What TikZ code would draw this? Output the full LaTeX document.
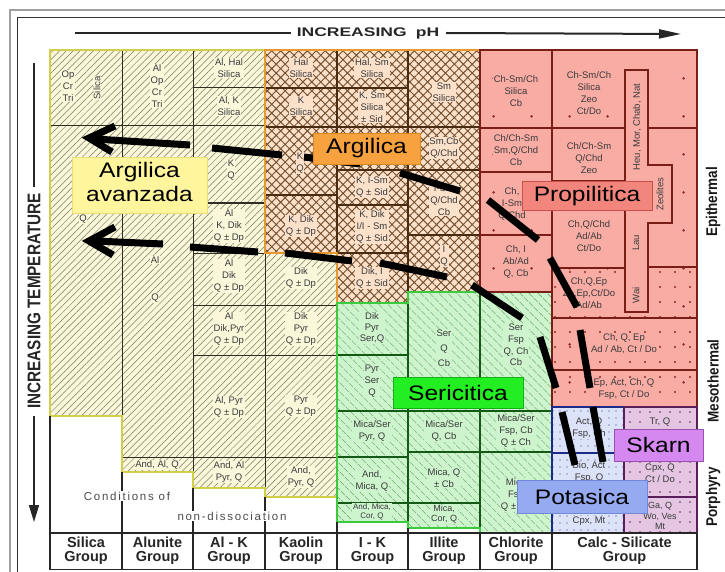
\documentclass[tikz,border=0pt]{standalone}
\usepackage{fontspec}
\setmainfont{Liberation Sans}
\usepackage{graphicx}
\usetikzlibrary{patterns.meta,arrows.meta}
\newcommand{\wideT}[1]{\scalebox{1.17}[1]{#1}}
\definecolor{cream}{HTML}{FAF7DA}
\definecolor{hatchY}{HTML}{7A7A62}
\definecolor{borderY}{HTML}{D2CE48}
\definecolor{lineY}{HTML}{2E2E22}
\definecolor{peach}{HTML}{FBE0CA}
\definecolor{hatchO}{HTML}{74502E}
\definecolor{borderO}{HTML}{E8982E}
\definecolor{lineO}{HTML}{4A2C12}
\definecolor{salmon}{HTML}{F8ACA4}
\definecolor{dotR}{HTML}{8E2A22}
\definecolor{lineR}{HTML}{7A1E18}
\definecolor{mint}{HTML}{CDF4CD}
\definecolor{hatchG}{HTML}{3C8C3C}
\definecolor{borderG}{HTML}{3CCB3C}
\definecolor{lineG}{HTML}{145A14}
\definecolor{bluebg}{HTML}{DCE2F8}
\definecolor{dotB}{HTML}{28307A}
\definecolor{lineB}{HTML}{1E2A8A}
\definecolor{purbg}{HTML}{E4C6E2}
\definecolor{dotP}{HTML}{6A2A6A}
\definecolor{lineP}{HTML}{5A1E5A}
\definecolor{labY}{HTML}{FFF59D}
\definecolor{labYd}{HTML}{EEDC78}
\definecolor{labO}{HTML}{F7A23E}
\definecolor{labOd}{HTML}{DD8820}
\definecolor{labR}{HTML}{F2867C}
\definecolor{labRd}{HTML}{C8524A}
\definecolor{labG}{HTML}{22EE22}
\definecolor{labGd}{HTML}{18B018}
\definecolor{labB}{HTML}{95AAF0}
\definecolor{labBd}{HTML}{7088D8}
\definecolor{labP}{HTML}{D488F0}
\definecolor{labPd}{HTML}{9A50B0}
\definecolor{txt}{HTML}{3A3A3A}
\begin{document}
\begin{tikzpicture}[x=1pt,y=-1pt,
  cell/.style={font=\fontsize{9.5}{11.8}\selectfont, text=txt, align=center, inner sep=0.8pt},
  cY/.style={cell,fill=cream},
  cO/.style={cell,fill=peach},
  cR/.style={cell,fill=salmon},
  cG/.style={cell,fill=mint},
  cB/.style={cell,fill=bluebg},
  cP/.style={cell,fill=purbg},
  loose/.style={font=\fontsize{9.5}{15}\selectfont},
  lab/.style={draw, line width=0.9pt, inner sep=0pt, font=\fontsize{21}{23.5}\selectfont, text=black},
  grp/.style={font=\bfseries\fontsize{14.5}{14}\selectfont, align=center, text=black!85},
  side/.style={font=\bfseries\fontsize{13.5}{14}\selectfont, rotate=90, text=black!90},
  bot/.style={font=\fontsize{11.5}{12}\selectfont\addfontfeatures{LetterSpace=15}, text=black!70, fill=white, inner sep=1pt},
  lnY/.style={lineY, line width=1pt},
  lnO/.style={lineO, line width=1.1pt},
  lnR/.style={lineR, line width=1.1pt},
  lnG/.style={lineG, line width=1.1pt},
  lnK/.style={black!85, line width=1.1pt},
  thk/.style={line width=7pt, black, line cap=butt},
  ahd/.style={line width=7pt, black, line join=miter, line cap=butt},
]
\useasboundingbox (0,0) rectangle (725,572);
\clip (0,0) rectangle (725,572);
\fill[white] (0,0) rectangle (725,572);
% frame
\draw[gray!75, line width=2.5pt] (10,10) rectangle (760,600);
\draw[black!80, line width=0.9pt] (17,17) rectangle (753,593);

% header arrows
\coordinate (p1) at (75,33); \coordinate (p2) at (291,33);
\coordinate (p3) at (446,33); \coordinate (p4) at (681,34);
\draw[line width=2pt, black!85] (p1) -- (p2);
\draw[line width=2pt, black!85, -{Triangle[length=22pt,width=9pt]}] (p3) -- (p4);
\node[font=\bfseries\fontsize{12.5}{13}\selectfont, text=black!85] (ph) at (368,33) {\scalebox{1.4}[1]{INCREASING\hspace{0.25em} pH}};
\coordinate (t1) at (34,63); \coordinate (t2) at (34,187);
\coordinate (t3) at (34,416); \coordinate (t4) at (34,522);
\draw[line width=1.6pt, black!85] (t1) -- (t2);
\draw[line width=1.6pt, black!85, -{Triangle[length=17pt,width=10pt]}] (t3) -- (t4);
\node[font=\bfseries\fontsize{15.3}{16}\selectfont, rotate=90, text=black!85] (temp) at (34,301) {\scalebox{1}[1.2]{INCREASING TEMPERATURE}};
\node[side] (epi) at (713,202) {\scalebox{1}[1.15]{Epithermal}};
\node[side] (meso) at (713,381) {\scalebox{1}[1.15]{Mesothermal}};
\node[side] (por) at (713,497) {\scalebox{1}[1.15]{Porphyry}};

% region fills
\path[preaction={fill=cream}, pattern={Lines[angle=45,distance=4.8pt,line width=0.5pt]}, pattern color=hatchY]
 (50,50) -- (265,50) -- (265,253) -- (337,253) -- (337,497) -- (265,497) -- (265,488) -- (193,488) -- (193,472) -- (122,472) -- (122,416) -- (50,416) -- cycle;
\path[preaction={fill=peach}, pattern={Hatch[angle=45,distance=6.3pt,line width=0.95pt]}, pattern color=hatchO]
 (265,50) -- (480,50) -- (480,292) -- (408,292) -- (408,303) -- (337,303) -- (337,253) -- (265,253) -- cycle;
\path[preaction={fill=salmon}, pattern={Dots[distance=38pt,radius=1.4pt]}, pattern color=dotR]
 (480,50) -- (697,50) -- (697,407) -- (552,407) -- (552,292) -- (480,292) -- cycle;
\path[pattern={Dots[distance=15pt,radius=1.1pt]}, pattern color=dotR] (552,268) rectangle (697,407);
\path[preaction={fill=mint}, pattern={Lines[angle=-45,distance=6.5pt,line width=0.7pt]}, pattern color=hatchG]
 (337,303) -- (408,303) -- (408,292) -- (552,292) -- (552,533) -- (480,533) -- (480,528) -- (408,528) -- (408,522) -- (337,522) -- cycle;
\path[preaction={fill=bluebg}, pattern={Dots[distance=7pt,radius=0.65pt]}, pattern color=dotB] (552,407) rectangle (624,533);
\path[preaction={fill=purbg}, pattern={Dots[distance=10pt,radius=0.8pt]}, pattern color=dotP] (624,407) rectangle (697,533);

% internal lines: yellow
\draw[lnY] (122,50) -- (122,416);
\draw[lnY] (193,50) -- (193,472);
\draw[lnY] (265,253) -- (265,488);
\draw[lnY] (50,126) -- (265,126);
\draw[lnY] (193,88) -- (265,88);
\draw[lnY] (193,203) -- (265,203);
\draw[lnY] (193,253) -- (265,253);
\draw[lnY] (193,305) -- (337,305);
\draw[lnY] (193,355) -- (337,355);
\draw[lnY] (122,457) -- (337,457);
% orange
\draw[lnO] (337,50) -- (337,253);
\draw[lnO] (408,50) -- (408,292);
\draw[lnO] (265,88) -- (408,88);
\draw[lnO] (265,127) -- (480,127);
\draw[lnO] (265,195) -- (337,195);
\draw[lnO] (337,170) -- (480,170);
\draw[lnO] (337,205) -- (408,205);
\draw[lnO] (337,253) -- (408,253);
\draw[lnO] (408,235) -- (480,235);
% red
\draw[lnR] (552,50) -- (552,292);
\draw[lnR] (480,128) -- (625,128);
\draw[lnR] (648,128) -- (697,128);
\draw[lnR] (480,172) -- (552,172);
\draw[lnR] (480,235) -- (552,235);
\draw[lnR] (552,181) -- (625,181);
\draw[lnR] (552,268) -- (625,268);
\draw[lnR] (648,267) -- (697,267);
\draw[lnR] (552,318) -- (697,318);
\draw[lnR] (552,370) -- (697,370);
\draw[lnR, fill=salmon] (625,70) -- (648,70) -- (648,165) -- (672,165) -- (672,223) -- (648,223) -- (648,312) -- (625,312) -- cycle;
% green
\draw[lnG] (408,303) -- (408,522);
\draw[lnG] (480,292) -- (480,528);
\draw[lnG] (337,355) -- (408,355);
\draw[lnG] (337,411) -- (552,411);
\draw[lnG] (337,457) -- (408,457);
\draw[lnG] (408,452) -- (552,452);
\draw[lnG] (337,503) -- (480,503);
% blue / purple
\draw[lineB, line width=1.1pt] (552,453) -- (624,453);
\draw[lineB, line width=1.1pt] (552,508) -- (624,508);
\draw[lineP, line width=1.1pt] (624,453) -- (697,453);
\draw[lineP, line width=1.1pt] (624,497) -- (697,497);

% region borders
\draw[borderY, line width=1.5pt] (50,50) -- (265,50) -- (265,253) -- (337,253) -- (337,497) -- (265,497) -- (265,488) -- (193,488) -- (193,472) -- (122,472) -- (122,416) -- (50,416) -- cycle;
\draw[borderO, line width=1.5pt] (265,50) -- (480,50) -- (480,292) -- (408,292) -- (408,303) -- (337,303) -- (337,253) -- (265,253) -- cycle;
\draw[borderG, line width=1.5pt] (337,303) -- (408,303) -- (408,292) -- (552,292) -- (552,533) -- (480,533) -- (480,528) -- (408,528) -- (408,522) -- (337,522) -- cycle;
\draw[lineR, line width=1.4pt] (480,50) -- (697,50) -- (697,407) -- (552,407) -- (552,292) -- (480,292) -- cycle;
\draw[lineB, line width=1.3pt] (552,407) rectangle (624,533);
\draw[lineP, line width=1.3pt] (624,407) rectangle (697,533);

% white area and group row
\draw[lnK] (50,416) -- (50,570);
\draw[lnK] (122,472) -- (122,570);
\draw[lnK] (193,488) -- (193,570);
\draw[lnK] (265,497) -- (265,570);
\draw[lnK] (337,522) -- (337,570);
\draw[lnK] (408,528) -- (408,570);
\draw[lnK] (480,533) -- (480,570);
\draw[lnK] (552,533) -- (552,570);
\draw[lnK] (697,533) -- (697,570);
\draw[lnK] (50,533) -- (697,533);
\draw[lnK] (50,569.5) -- (697,569.5);
\node[grp] (G1) at (86,551) {Silica\\Group};
\node[grp] (G2) at (157.5,551) {Alunite\\Group};
\node[grp] (G3) at (229,551) {Al - K\\Group};
\node[grp] (G4) at (301,551) {Kaolin\\Group};
\node[grp] (G5) at (372.5,551) {I - K\\Group};
\node[grp] (G6) at (444,551) {Illite\\Group};
\node[grp] (G7) at (516,551) {Chlorite\\Group};
\node[grp] (G8) at (624.5,551) {Calc - Silicate\\Group};
\node[bot] (cond) at (127,496) {Conditions of};
\node[bot] (nond) at (232,516) {non-dissociation};

% cell texts: yellow
\node[cY] (s1) at (68,86) {Op\\Cr\\Tri};
\node[cY,rotate=90] (s2) at (97,88) {Silica};
\node[cY] (s3) at (83,219) {Q};
\node[cY] (u1) at (157,86) {Al\\Op\\Cr\\Tri};
\node[cY] (u2) at (155,260) {Al};
\node[cY] (u3) at (155,298) {Q};
\node[cY] (u4) at (157,465) {And, Al, Q};
\node[cY] (k1) at (229,68) {Al, Hal\\Silica};
\node[cY] (k2) at (229,106) {Al, K\\Silica};
\node[cY] (k3) at (231,170) {K\\Q};
\node[cY] (k4) at (229,226) {Al\\K, Dik\\Q ± Dp};
\node[cY] (k5) at (229,276) {Al\\Dik\\Q ± Dp};
\node[cY] (k6) at (229,329) {Al\\Dik,Pyr\\Q ± Dp};
\node[cY] (k7) at (229,407) {Al, Pyr\\Q ± Dp};
\node[cY] (k8) at (229,472) {And, Al\\Pyr, Q};
\node[cY] (c5) at (301,278) {Dik\\Q ± Dp};
\node[cY] (c6) at (301,329) {Dik\\Pyr\\Q ± Dp};
\node[cY] (c7) at (301,406) {Pyr\\Q ± Dp};
\node[cY] (c8) at (301,477) {And,\\Pyr, Q};
% orange
\node[cO] (c1) at (301,68) {Hal\\Silica};
\node[cO] (c2) at (301,106) {K\\Silica};
\node[cO] (c3) at (300,163) {K\\Q};
\node[cO] (c4) at (301,226) {K, Dik\\Q ± Dp};
\node[cO] (i1) at (372,68) {Hal, Sm\\Silica};
\node[cO] (i2) at (372,107) {K, Sm\\Silica\\± Sid};
\node[cO] (i3) at (372,187) {K, I-Sm\\Q ± Sid};
\node[cO] (i4) at (372,227) {K, Dik\\I/I - Sm\\Q ± Sid};
\node[cO] (i5) at (372,278) {Dik, I\\Q ± Sid};
\node[cO] (l1) at (444,92) {Sm\\Silica};
\node[cO] (l2) at (444,148) {Sm,Cb\\Q/Chd};
\node[cO] (l3) at (444,200) {I-Sm\\Q/Chd\\Cb};
\node[cO] (l4) at (444,256) {I\\Q};
% red
\node[cR] (h1) at (516,91) {Ch-Sm/Ch\\Silica\\Cb};
\node[cR] (h2) at (516,150) {Ch/Ch-Sm\\Sm,Q/Chd\\Cb};
\node[cR] (h3) at (512,204) {Ch,\\I-Sm\\Q/Chd};
\node[cR] (h4) at (516,262) {Ch, I\\Ab/Ad\\Q, Cb};
\node[cR] (z1) at (589,93) {Ch-Sm/Ch\\Silica\\Zeo\\Ct/Do};
\node[cR] (z2) at (589,158) {Ch/Ch-Sm\\Q/Chd\\Zeo};
\node[cR] (z3) at (589,236) {Ch,Q/Chd\\Ad/Ab\\Ct/Do};
\node[cR] (z4) at (589,293) {Ch,Q,Ep\\Zo,Ep,Ct/Do\\Ad/Ab};
\node[cR,rotate=90] (z5) at (637,127) {Heu, Mor, Chab, Nat};
\node[cR,rotate=90] (z6) at (660,194) {Zeolites};
\node[cR,rotate=90] (z7) at (636,243) {Lau};
\node[cR,rotate=90] (z8) at (636,295) {Wai};
\node[cR] (z9) at (624,344) {Ch, Q, Ep\\Ad / Ab, Ct / Do};
\node[cR] (z10) at (624,389) {Ep, Act, Ch, Q\\Fsp, Ct / Do};
% blue, purple
\node[cB] (b1) at (589,428) {Act, Q\\Fsp, Ch};
\node[cB] (b2) at (589,472) {Bio, Act\\Fsp, Q};
\node[cB] (b3) at (589,521) {Cpx, Mt};
\node[cP] (q1) at (660,422) {Tr, Q};
\node[cP] (q2) at (660,473) {Cpx, Q\\Ct / Do};
\node[cP, font=\fontsize{9}{10.8}\selectfont] (q3) at (660,516) {Ga, Q\\Wo, Ves\\Mt};
% green
\node[cG, font=\fontsize{9.5}{10.8}\selectfont] (g1) at (372,328) {Dik\\Pyr\\Ser,Q};
\node[cG] (g2) at (372,381) {Pyr\\Ser\\Q};
\node[cG] (g3) at (372,431) {Mica/Ser\\Pyr, Q};
\node[cG] (g4) at (372,481) {And,\\Mica, Q};
\node[cG, font=\fontsize{8}{8.5}\selectfont] (g5) at (372,512) {And, Mica,\\Cor, Q};
\node[cG, loose] (m1) at (444,348) {Ser\\Q\\Cb};
\node[cG] (m2) at (444,431) {Mica/Ser\\Q, Cb};
\node[cG] (m3) at (444,478) {Mica, Q\\± Cb};
\node[cG, font=\fontsize{9}{10}\selectfont] (m4) at (444,514) {Mica,\\Cor, Q};
\node[cG] (n1) at (516,345) {Ser\\Fsp\\Q, Ch\\Cb};
\node[cG] (n2) at (516,431) {Mica/Ser\\Fsp, Cb\\Q ± Ch};
\node[cG] (n3) at (516,495) {Mica\\Fsp\\Q ± Ch};

% thick dashed arrows, upper path
\coordinate (aw1) at (115,126); \coordinate (atip) at (89,138); \coordinate (aw2) at (112,152);
\draw[ahd] (aw1) -- (atip) -- (aw2);
\coordinate (a1) at (95,139); \coordinate (a2) at (190,145);
\coordinate (a3) at (212,148); \coordinate (a4) at (282,155);
\coordinate (a5) at (304,157); \coordinate (a6) at (360,164);
\coordinate (a7) at (400,173); \coordinate (a8) at (460,191);
\coordinate (a9) at (488,200); \coordinate (a10) at (538,240);
\coordinate (a11) at (550,258); \coordinate (a12) at (577,307);
\coordinate (a13) at (580,330); \coordinate (a14) at (590,388);
\coordinate (a15) at (593,407); \coordinate (a16) at (603,462);
\draw[thk] (a1) -- (a2); \draw[thk] (a3) -- (a4); \draw[thk] (a5) -- (a6);
\draw[thk] (a7) -- (a8); \draw[thk] (a9) -- (a10); \draw[thk] (a11) -- (a12);
\draw[thk] (a13) -- (a14); \draw[thk] (a15) -- (a16);
% lower path
\coordinate (bw1) at (115,227); \coordinate (btip) at (89,241); \coordinate (bw2) at (113,255);
\draw[ahd] (bw1) -- (btip) -- (bw2);
\coordinate (b1p) at (95,241); \coordinate (b2p) at (163,244);
\coordinate (b3p) at (190,247); \coordinate (b4p) at (258,252);
\coordinate (b5p) at (285,253); \coordinate (b6p) at (352,261);
\coordinate (b7p) at (380,263); \coordinate (b8p) at (447,277);
\coordinate (b9p) at (472,285); \coordinate (b10p) at (522,318);
\coordinate (b11p) at (540,337); \coordinate (b12p) at (556,388);
\coordinate (b13p) at (562,412); \coordinate (b14p) at (575,465);
\draw[thk] (b1p) -- (b2p); \draw[thk] (b3p) -- (b4p); \draw[thk] (b5p) -- (b6p);
\draw[thk] (b7p) -- (b8p); \draw[thk] (b9p) -- (b10p); \draw[thk] (b11p) -- (b12p);
\draw[thk] (b13p) -- (b14p);

% labels
\node[lab, fill=labY, draw=labYd, minimum width=135pt, minimum height=56pt] (argav) at (139.5,185) {\wideT{\begin{tabular}{@{}c@{}}Argilica\\avanzada\end{tabular}}};
\node[lab, fill=labO, draw=labOd, minimum width=107pt, minimum height=31pt] (arg) at (366.5,148.5) {\wideT{Argilica}};
\node[lab, fill=labR, draw=labRd, minimum width=130pt, minimum height=29pt] (prop) at (587,196) {\wideT{Propilitica}};
\node[lab, fill=labG, draw=labGd, minimum width=130pt, minimum height=31pt] (seri) at (458,392.5) {\wideT{Sericitica}};
\node[lab, fill=labB, draw=labBd, minimum width=130pt, minimum height=33pt] (pota) at (582,496.5) {\wideT{Potasica}};
\node[lab, fill=labP, draw=labPd, minimum width=89pt, minimum height=32pt] (skarn) at (658.5,445) {\wideT{Skarn}};
\end{tikzpicture}
\end{document}
